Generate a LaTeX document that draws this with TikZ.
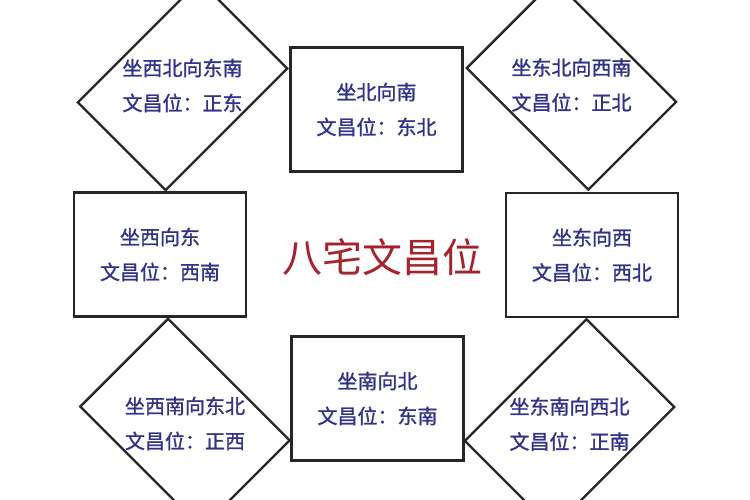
\documentclass[tikz,border=0pt]{standalone}
\usepackage{fontspec}
\newfontfamily\cjk{Noto Sans CJK SC}
\newfontfamily\cjkcu[FakeBold=1.2]{Noto Sans CJK SC}
\definecolor{zise}{RGB}{50,50,135}
\definecolor{hongse}{RGB}{165,35,45}
\tikzset{
  kuang/.style={draw=black!85, line width=2.3pt, minimum width=172pt, minimum height=124pt, inner sep=0pt},
  wenzi/.style={text=zise, align=center, font=\cjkcu\fontsize{20}{35}\selectfont},
}
\begin{document}
\begin{tikzpicture}[x=1pt,y=1pt]
    \fill[white] (0,0) rectangle (750,500);
    \useasboundingbox (0,0) rectangle (750,500);

    % 四个方框
    \node[kuang, wenzi] (bei) at (376.5,390.5) {坐北向南\\文昌位：东北};
    \node[kuang, wenzi] (xi) at (160,245.5) {坐西向东\\文昌位：西南};
    \node[kuang, wenzi] (dong) at (592,245) {坐东向西\\文昌位：西北};
    \node[kuang, wenzi] (nan) at (377.5,101.5) {坐南向北\\文昌位：东南};

    % 四个菱形
    \node[kuang, rotate=45] (xibei) at (182.5,414.5) {};
    \node[kuang, rotate=-45] (dongbei) at (571.5,415) {};
    \node[kuang, rotate=-45] (xinan) at (185,76.5) {};
    \node[kuang, rotate=45] (dongnan) at (569.5,76) {};
    \node[wenzi] (xibeizi) at (xibei) {坐西北向东南\\文昌位：正东};
    \node[wenzi] (dongbeizi) at (dongbei) {坐东北向西南\\文昌位：正北};
    \node[wenzi] (xinanzi) at (xinan) {坐西南向东北\\文昌位：正西};
    \node[wenzi] (dongnanzi) at (dongnan) {坐东南向西北\\文昌位：正南};

    \node[text=hongse, font=\cjk\fontsize{40}{40}\selectfont] (biaoti) at (382,243) {八宅文昌位};
\end{tikzpicture}
\end{document}
